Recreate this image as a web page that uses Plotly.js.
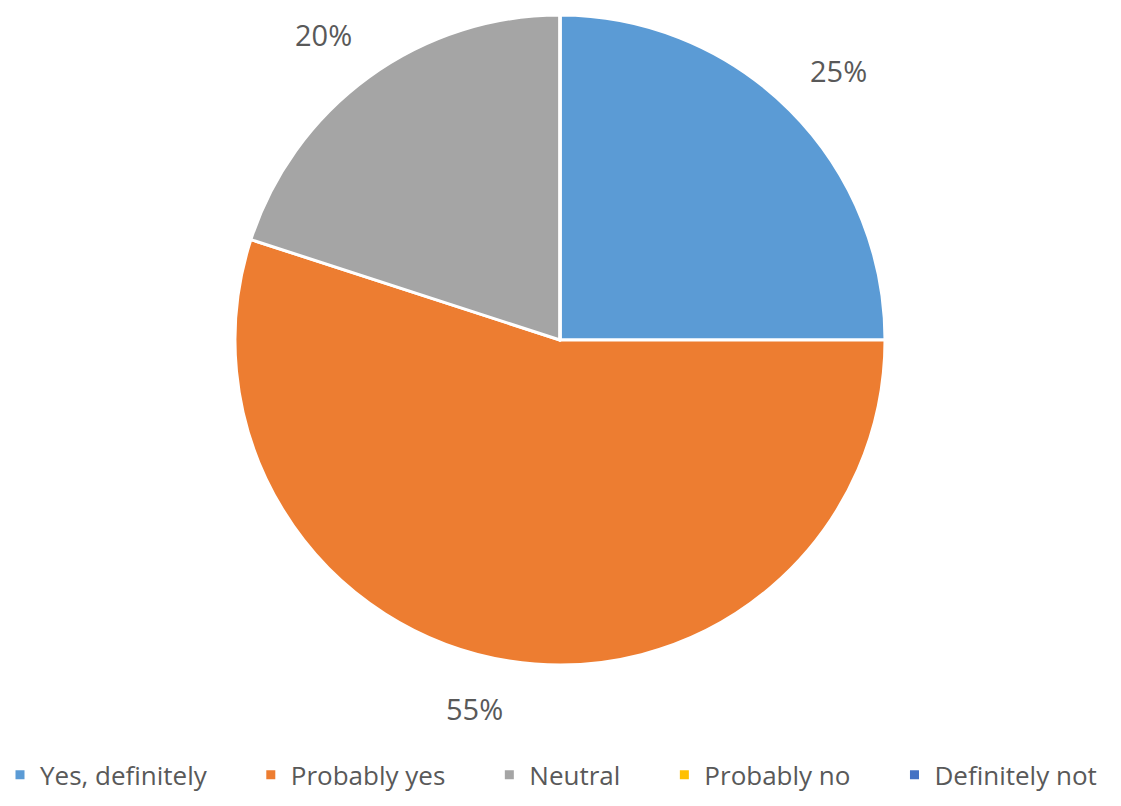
<!DOCTYPE html>
<html>
<head>
<meta charset="utf-8">
<script src="https://cdn.plot.ly/plotly-3.0.1.min.js"></script>
<style>html,body{margin:0;padding:0;background:#fff;}#chart{width:1121px;height:806px;}</style>
</head>
<body>
<div id="chart"></div>
<script>
const categories = ["Yes, definitely", "Probably yes", "Neutral", "Probably no", "Definitely not"];
const values = [25, 55, 20, 0, 0];
const colors = ["#5B9BD5", "#ED7D31", "#A5A5A5", "#FFC000", "#4472C4"];

const W = 1121, H = 806;
const dom = {x: [0.2096, 0.7895], y: [0.1749, 0.9814]};

// legend labels with trailing spacing between entries (not after the last one)
const legendLabels = categories.map((c, i) => i < categories.length - 1 ? c + "\u2003\u2002" : c);

const trace = {
  type: "pie",
  labels: legendLabels,
  values: values,
  sort: false,
  direction: "clockwise",
  rotation: 0,
  marker: {colors: colors, line: {color: "#ffffff", width: 3}},
  textinfo: "none",
  domain: dom,
  hoverinfo: "label+percent"
};

// percentage labels placed outside each non-zero slice, at its mid angle
const total = values.reduce((a, b) => a + b, 0);
const cx = (dom.x[0] + dom.x[1]) / 2 * W;
const cy = (1 - (dom.y[0] + dom.y[1]) / 2) * H;
const R = (dom.y[1] - dom.y[0]) * H / 2;
const annotations = [];
let cum = 0;
values.forEach((v, i) => {
  if (v > 0) {
    const mid = (cum + v / 2) / total * 2 * Math.PI;
    const r = R * 1.08;
    const s = Math.sin(mid), c = Math.cos(mid);
    const px = cx + r * s;
    const py = cy - r * c;
    annotations.push({
      x: px / W, y: 1 - py / H, xref: "paper", yref: "paper",
      xanchor: s > 0 ? "left" : "right",
      yanchor: c > 0 ? "bottom" : "top",
      showarrow: false,
      text: Math.round(v / total * 100) + "%",
      font: {family: "Open Sans, sans-serif", size: 29, color: "#595959"}
    });
  }
  cum += v;
});

const layout = {
  width: W,
  height: H,
  margin: {l: 0, r: 0, t: 0, b: 0, autoexpand: false},
  paper_bgcolor: "#ffffff",
  showlegend: true,
  annotations: annotations,
  legend: {
    orientation: "h",
    x: 0.0,
    xanchor: "left",
    y: 0.0385,
    yanchor: "middle",
    font: {family: "Open Sans, sans-serif", size: 26, color: "#595959"},
    traceorder: "normal"
  }
};

Plotly.newPlot("chart", [trace], layout, {displayModeBar: false, staticPlot: true});
</script>
</body>
</html>
